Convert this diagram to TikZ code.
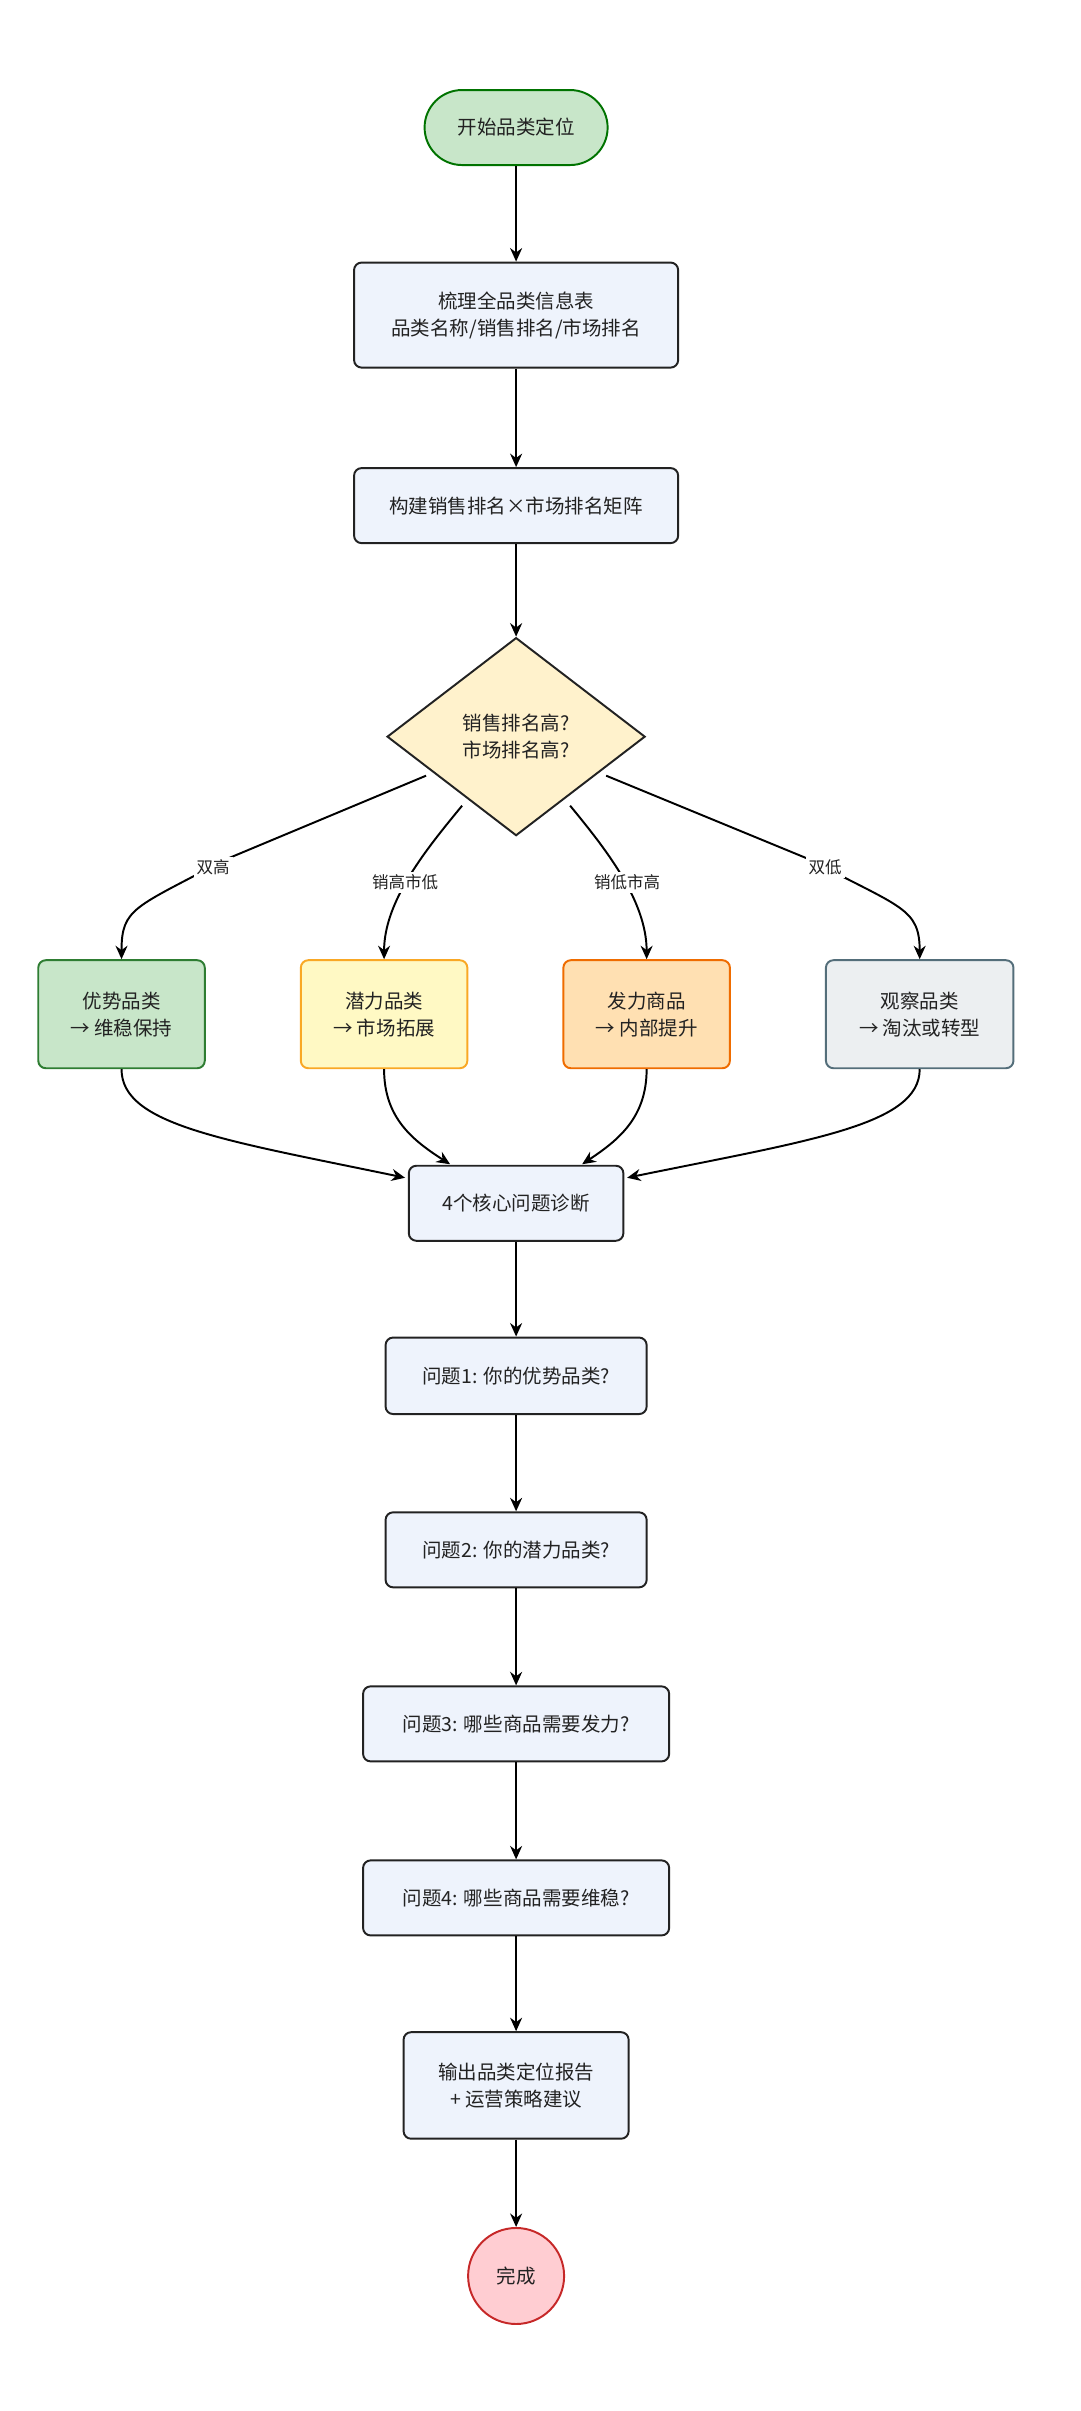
\documentclass[tikz,border=0pt]{standalone}
\usepackage{fontspec}
\setmainfont{Noto Sans CJK SC}
\usetikzlibrary{shapes.geometric,arrows.meta}
\definecolor{boxfill}{HTML}{EEF3FC}
\definecolor{edge}{HTML}{222222}
\begin{document}
\begin{tikzpicture}[x=1pt,y=-1pt,
  every node/.style={font=\fontsize{13}{18}\selectfont, align=center, text=edge},
  box/.style={draw=edge, line width=1.3pt, rounded corners=5pt, fill=boxfill, inner sep=0pt},
  cat/.style={line width=1.3pt, rounded corners=5pt, inner sep=0pt, minimum width=111pt, minimum height=72pt},
  arr/.style={-{Stealth[length=9pt,width=8pt]}, line width=1.3pt, draw=black},
  lab/.style={font=\fontsize{11}{13}\selectfont, fill=white, inner sep=2pt}]
\path[use as bounding box] (0,0) rectangle (720,1607);
\node[draw=green!45!black, fill={rgb,255:red,200;green,230;blue,201}, line width=1.3pt, rounded corners=25pt, minimum width=122pt, minimum height=50pt] (start) at (344,85) {开始品类定位};
\node[box, minimum width=216pt, minimum height=70pt] (b1) at (344,210) {梳理全品类信息表\\品类名称/销售排名/市场排名};
\node[box, minimum width=216pt, minimum height=50pt] (b2) at (344,337) {构建销售排名×市场排名矩阵};
\node[diamond, draw=edge, line width=1.3pt, fill={rgb,255:red,255;green,242;blue,204}, minimum width=172pt, minimum height=132pt, inner sep=0pt] (d) at (344,491) {销售排名高?\\市场排名高?};
\node[cat, draw={rgb,255:red,46;green,125;blue,50}, fill={rgb,255:red,200;green,230;blue,201}] (A) at (81,676) {优势品类\\→ 维稳保持};
\node[cat, draw={rgb,255:red,249;green,168;blue,37}, fill={rgb,255:red,255;green,249;blue,196}] (B) at (256,676) {潜力品类\\→ 市场拓展};
\node[cat, draw={rgb,255:red,239;green,108;blue,0}, fill={rgb,255:red,255;green,224;blue,178}] (C) at (431,676) {发力商品\\→ 内部提升};
\node[cat, minimum width=125pt, draw={rgb,255:red,84;green,110;blue,122}, fill={rgb,255:red,236;green,239;blue,241}] (D) at (613,676) {观察品类\\→ 淘汰或转型};
\node[box, minimum width=143pt, minimum height=50pt] (g) at (344,802) {4个核心问题诊断};
\node[box, minimum width=174pt, minimum height=51pt] (q1) at (344,917) {问题1: 你的优势品类?};
\node[box, minimum width=174pt, minimum height=50pt] (q2) at (344,1033) {问题2: 你的潜力品类?};
\node[box, minimum width=204pt, minimum height=50pt] (q3) at (344,1149) {问题3: 哪些商品需要发力?};
\node[box, minimum width=204pt, minimum height=50pt] (q4) at (344,1265) {问题4: 哪些商品需要维稳?};
\node[box, minimum width=150pt, minimum height=71pt] (o) at (344,1390) {输出品类定位报告\\+ 运营策略建议};
\node[circle, draw={rgb,255:red,198;green,40;blue,40}, fill={rgb,255:red,255;green,205;blue,210}, line width=1.3pt, minimum size=64pt, inner sep=0pt] (e) at (344,1517) {完成};
\draw[arr] (start) -- (b1);
\draw[arr] (b1) -- (b2);
\draw[arr] (b2) -- (d);
\coordinate (d1) at (284,517); \coordinate (d2) at (308,537);
\coordinate (d3) at (380,537); \coordinate (d4) at (404,517);
\draw[arr] (d1) -- (150,573) .. controls (90,605) and (81,605) .. (A.north);
\draw[arr] (d2) .. controls (285,565) and (256,600) .. (B.north);
\draw[arr] (d3) .. controls (403,565) and (431,600) .. (C.north);
\draw[arr] (d4) -- (540,573) .. controls (600,605) and (613,605) .. (D.north);
\node[lab] at (142,578) {双高};
\node[lab] at (270,588) {销高市低};
\node[lab] at (418,588) {销低市高};
\node[lab] at (550,578) {双低};
\draw[arr] (A.south) .. controls (81,750) and (150,760) .. (270,785);
\draw[arr] (B.south) .. controls (256,745) and (275,760) .. (300,776);
\draw[arr] (C.south) .. controls (431,745) and (412,760) .. (388,776);
\draw[arr] (D.south) .. controls (613,750) and (540,760) .. (418,785);
\draw[arr] (g) -- (q1);
\draw[arr] (q1) -- (q2);
\draw[arr] (q2) -- (q3);
\draw[arr] (q3) -- (q4);
\draw[arr] (q4) -- (o);
\draw[arr] (o) -- (e);
\end{tikzpicture}
\end{document}
